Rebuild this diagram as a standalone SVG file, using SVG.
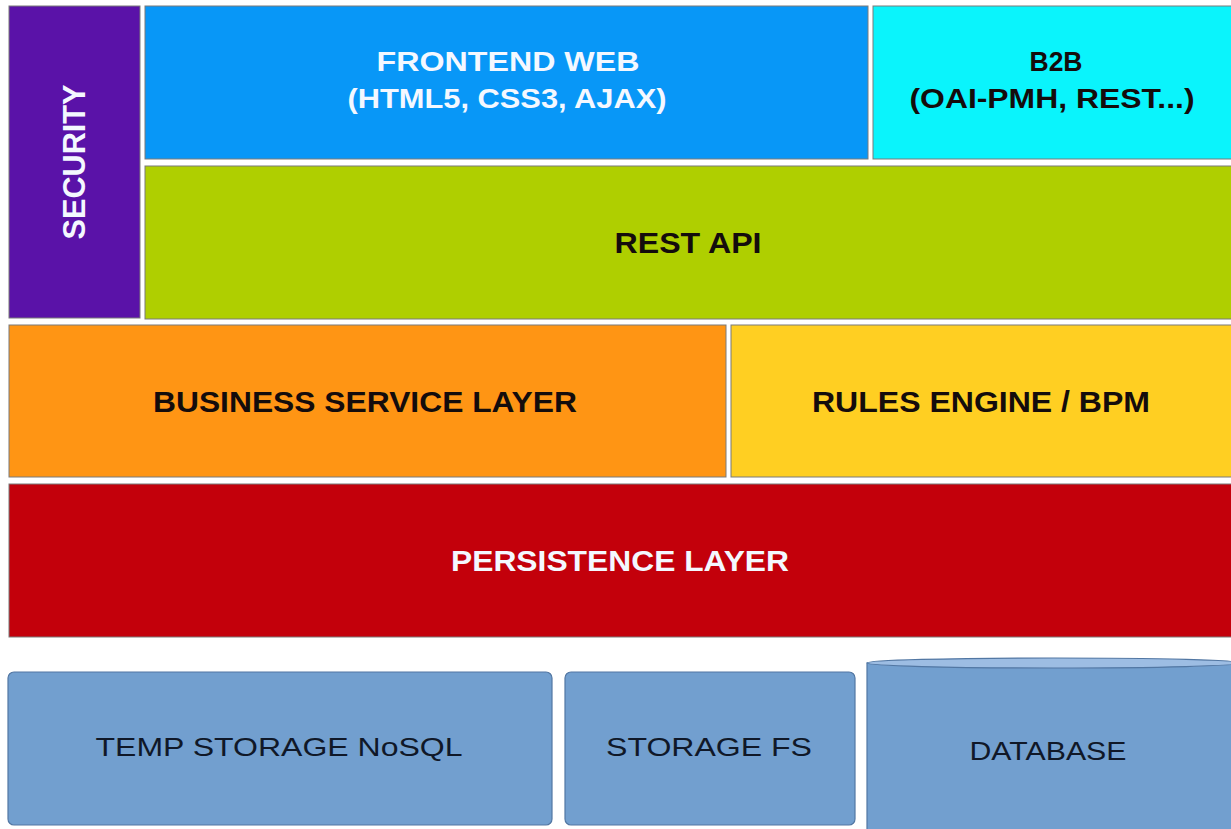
<svg xmlns="http://www.w3.org/2000/svg" width="1231" height="829" viewBox="0 0 1231 829">
<style>
.box{stroke:#7a7a7a;stroke-width:1}
.st{fill:#729fcf;stroke:#5277a3;stroke-width:1.2}
.b{font-family:"Liberation Sans",Arial,sans-serif;font-weight:bold;font-size:29px;text-anchor:middle}
.r{font-family:"Liberation Sans",Arial,sans-serif;font-size:26px;text-anchor:middle;fill:#101828}
.w{fill:#f4f8ff}
.k{fill:#140c0c}
</style>
<rect width="1231" height="829" fill="#ffffff"/>
<g id="security">
<rect class="box" x="9" y="6" width="131" height="312" fill="#5a12a8"/>
<text class="b w" style="font-size:31px" transform="translate(85,162) rotate(-90)" textLength="155" lengthAdjust="spacingAndGlyphs">SECURITY</text>
</g>
<g id="frontend">
<rect class="box" x="145" y="6" width="723" height="153" fill="#0897f7"/>
<text class="b w" style="font-size:27px" x="508" y="71" textLength="263" lengthAdjust="spacingAndGlyphs">FRONTEND WEB</text>
<text class="b w" style="font-size:27px" x="507" y="108" textLength="319" lengthAdjust="spacingAndGlyphs">(HTML5, CSS3, AJAX)</text>
</g>
<g id="b2b">
<rect class="box" x="873" y="6" width="360" height="153" fill="#0af4fc"/>
<text class="b k" style="font-size:27px" x="1056" y="71" textLength="53" lengthAdjust="spacingAndGlyphs">B2B</text>
<text class="b k" style="font-size:27px" x="1052" y="108" textLength="285" lengthAdjust="spacingAndGlyphs">(OAI-PMH, REST...)</text>
</g>
<g id="rest-api">
<rect class="box" x="145" y="166" width="1088" height="153" fill="#afcf00"/>
<text class="b k" x="688" y="253" textLength="147" lengthAdjust="spacingAndGlyphs">REST API</text>
</g>
<g id="business">
<rect class="box" x="9" y="325" width="717" height="152" fill="#ff9514"/>
<text class="b k" x="365" y="412" textLength="424" lengthAdjust="spacingAndGlyphs">BUSINESS SERVICE LAYER</text>
</g>
<g id="rules">
<rect class="box" x="731" y="325" width="502" height="152" fill="#ffcf22"/>
<text class="b k" x="981" y="412" textLength="338" lengthAdjust="spacingAndGlyphs">RULES ENGINE / BPM</text>
</g>
<g id="persistence">
<rect class="box" x="9" y="484" width="1224" height="153" fill="#c3000b"/>
<text class="b w" x="620" y="571" textLength="338" lengthAdjust="spacingAndGlyphs">PERSISTENCE LAYER</text>
</g>
<g id="temp-storage">
<rect class="st" x="8" y="672" width="544" height="153" rx="6"/>
<text class="r" x="279" y="756" textLength="367" lengthAdjust="spacingAndGlyphs">TEMP STORAGE NoSQL</text>
</g>
<g id="storage-fs">
<rect class="st" x="565" y="672" width="290" height="153" rx="6"/>
<text class="r" x="709" y="756" textLength="206" lengthAdjust="spacingAndGlyphs">STORAGE FS</text>
</g>
<g id="database">
<path class="st" d="M867,663 L867,835 L1240,835 L1240,663 Z"/>
<ellipse cx="1054" cy="663" rx="187" ry="5" fill="#9dbde3" stroke="#5277a3" stroke-width="1.2"/>
<text class="r" x="1048" y="760" textLength="157" lengthAdjust="spacingAndGlyphs">DATABASE</text>
</g>
<g id="connectors"></g>
</svg>
